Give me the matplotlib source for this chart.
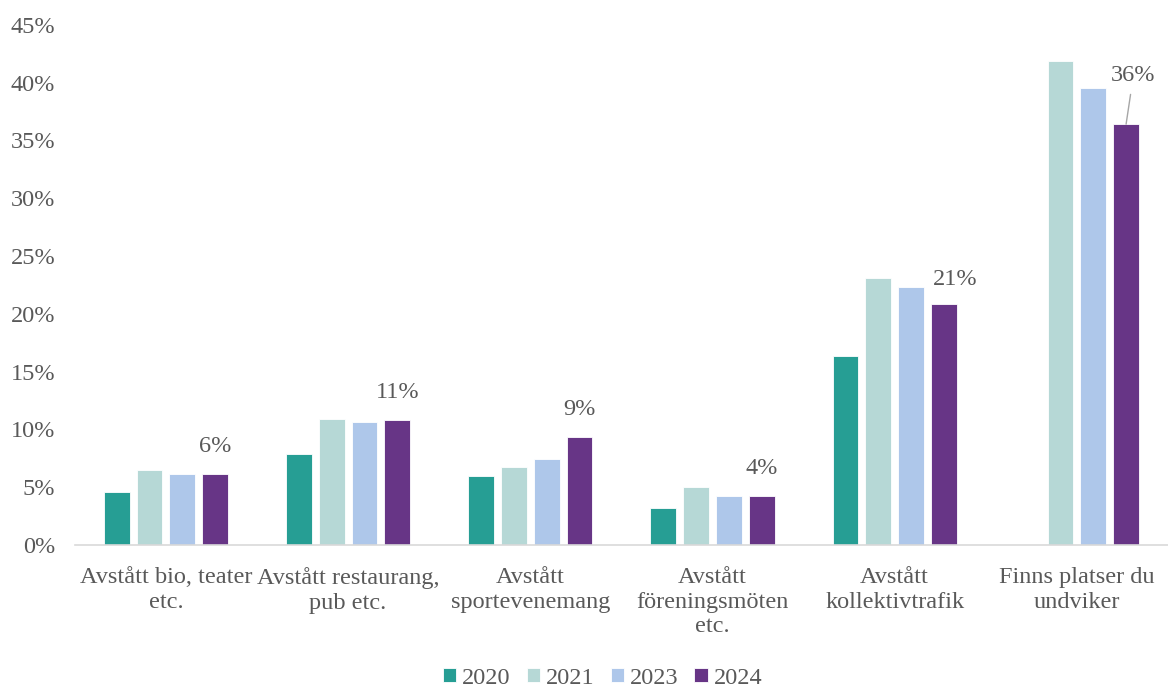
import numpy as np
import matplotlib
matplotlib.use("Agg")
from matplotlib import pyplot as plt

# data
categories = ["Avstått bio, teater\netc.", "Avstått restaurang,\npub etc.",
              "Avstått\nsportevenemang", "Avstått\nföreningsmöten\netc.",
              "Avstått\nkollektivtrafik", "Finns platser du\nundviker"]
years = ["2020", "2021", "2023", "2024"]
v2020 = [4.6, 7.9, 6.0, 3.2, 16.3, np.nan]
v2021 = [6.5, 10.9, 6.7, 5.0, 23.1, 41.9]
v2023 = [6.1, 10.6, 7.4, 4.2, 22.3, 39.5]
v2024 = [6.1, 10.8, 9.3, 4.2, 20.8, 36.4]
labels_2024 = ["6%", "11%", "9%", "4%", "21%", "36%"]

colors = ["#269E94", "#B6D8D6", "#AEC7EA", "#673586"]
txt = "#595959"
fs = 17.5

plt.rcParams['font.family'] = ['Liberation Serif', 'DejaVu Serif']

fig = plt.figure(figsize=(11.68, 6.88), dpi=100)
ax = fig.add_axes([0.064, 0.208, 0.936, 0.756])

x = np.arange(len(categories))
w = 0.142
step = 0.18
series = [v2020, v2021, v2023, v2024]
for i, (vals, c, y) in enumerate(zip(series, colors, years)):
    ax.bar(x + (i - 1.5) * step, vals, w, color=c, label=y,
           edgecolor="white", linewidth=0.6)

# data labels on 2024
for j, (v, lab) in enumerate(zip(v2024, labels_2024)):
    xb = x[j] + 1.5 * step
    if j == 5:
        ax.annotate(lab, xy=(xb, v), xytext=(xb + 0.04, v + 4.2),
                    ha="center", va="center", fontsize=fs, color=txt,
                    arrowprops=dict(arrowstyle="-", color="#A6A6A6", lw=1,
                                    shrinkA=4, shrinkB=0))
    elif j == 4:
        ax.text(xb + 0.06, v + 2.2, lab, ha="center", va="center",
                fontsize=fs, color=txt)
    else:
        ax.text(xb, v + 2.4, lab, ha="center", va="center",
                fontsize=fs, color=txt)

ax.set_xlim(-0.5, 5.5)
ax.set_ylim(0, 45)
ax.set_yticks(np.arange(0, 46, 5))
ax.set_yticklabels([f"{t}%" for t in range(0, 46, 5)])
ax.set_xticks(x)
ax.set_xticklabels(categories, linespacing=1.22)
ax.tick_params(axis="both", length=0, labelsize=fs, labelcolor=txt)
ax.tick_params(axis="x", pad=16)
ax.tick_params(axis="y", pad=14)
for s in ["top", "right", "left"]:
    ax.spines[s].set_visible(False)
ax.spines["bottom"].set_color("#D9D9D9")
ax.spines["bottom"].set_linewidth(1.2)

leg = fig.legend(*ax.get_legend_handles_labels(), loc="center",
                 bbox_to_anchor=(0.516, 0.0145), ncol=4, frameon=False,
                 fontsize=fs, handlelength=0.55, handleheight=0.55,
                 handletextpad=0.25, columnspacing=0.65)
for t in leg.get_texts():
    t.set_color(txt)

fig.savefig("out.png", dpi=100)
